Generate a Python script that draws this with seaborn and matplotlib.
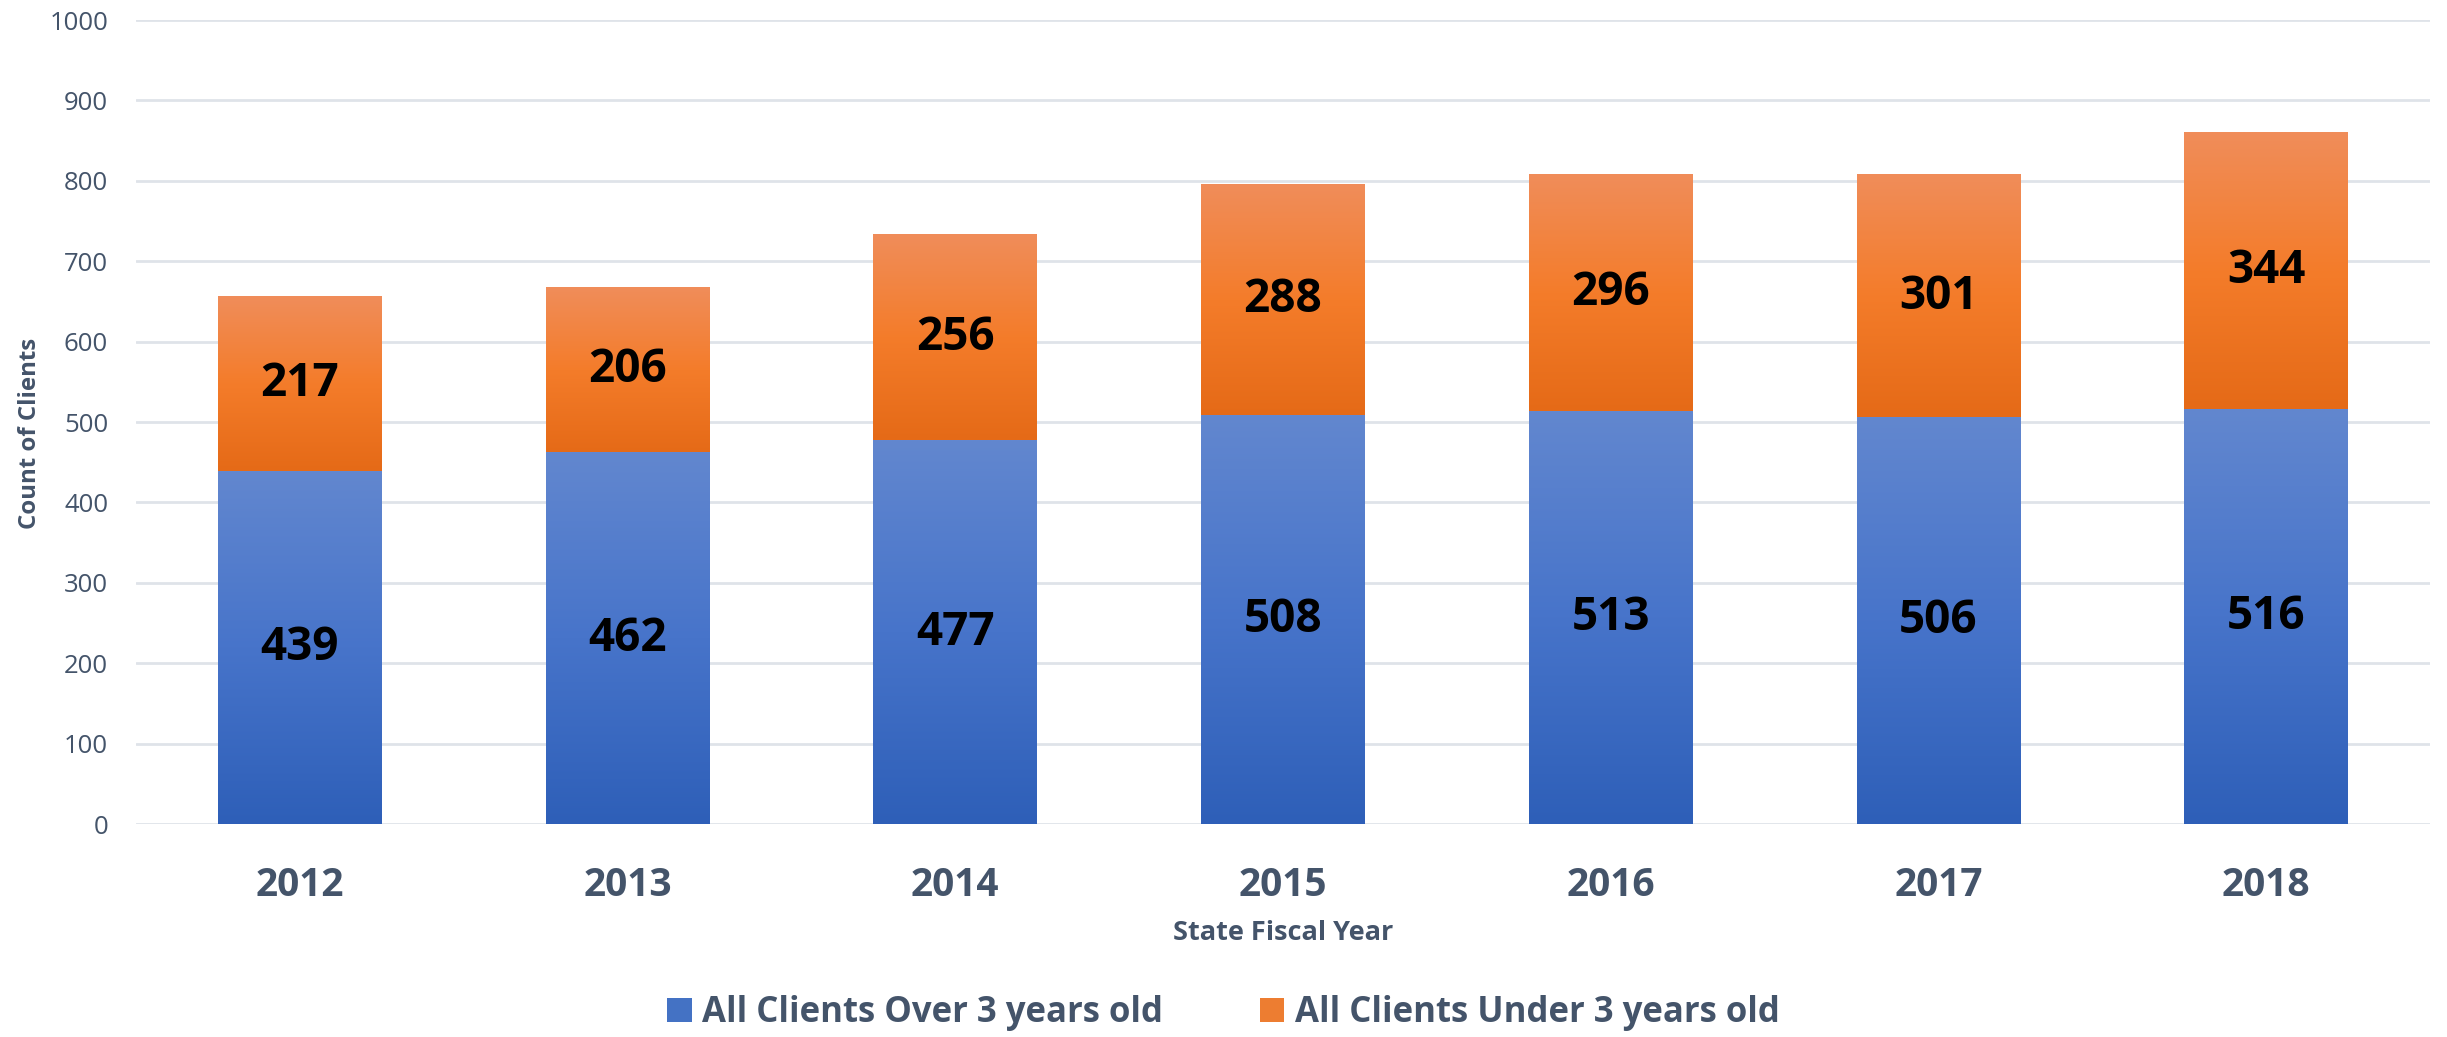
import numpy as np
import pandas as pd
import matplotlib
matplotlib.use("Agg")
import matplotlib.pyplot as plt
import seaborn as sns
from matplotlib.colors import LinearSegmentedColormap
from matplotlib.patches import Patch

years = ["2012", "2013", "2014", "2015", "2016", "2017", "2018"]
over3 = [439, 462, 477, 508, 513, 506, 516]
under3 = [217, 206, 256, 288, 296, 301, 344]
series_names = ["All Clients Over 3 years old", "All Clients Under 3 years old"]
y_ticks = [0, 100, 200, 300, 400, 500, 600, 700, 800, 900, 1000]

totals = [a + b for a, b in zip(over3, under3)]

sns.set_theme(style="white")
plt.rcParams['font.family'] = ['Open Sans', 'DejaVu Sans']

TXT = "#44546a"
GRID = "#dfe3e9"
BLUE_MID = "#4472c4"
ORANGE_MID = "#ed7d31"

fig = plt.figure(figsize=(24.47, 10.37), dpi=100)
ax = fig.add_axes([136 / 2447, 1 - 824 / 1037, (2430 - 136) / 2447, (824 - 20) / 1037])

df = pd.DataFrame({"year": years, "over": over3, "under": under3, "total": totals})

sns.barplot(data=df, x="year", y="total", color=ORANGE_MID, width=0.5,
            saturation=1, ax=ax, zorder=2)
sns.barplot(data=df, x="year", y="over", color=BLUE_MID, width=0.5,
            saturation=1, ax=ax, zorder=3)

ax.set_ylim(0, 1000)
xlim = ax.get_xlim()

blue_cmap = LinearSegmentedColormap.from_list("b", ["#2e5fb8", "#4774ca", "#6287cf"])
orange_cmap = LinearSegmentedColormap.from_list("o", ["#e56a17", "#f47c2a", "#f08d5a"])
grad = np.linspace(0, 1, 256).reshape(-1, 1)

patches = list(ax.patches)
n = len(years)
orange_patches = patches[:n]
blue_patches = patches[n:2 * n]
for op, bp in zip(orange_patches, blue_patches):
    x0 = bp.get_x(); w = bp.get_width()
    btop = bp.get_y() + bp.get_height()
    otop = op.get_y() + op.get_height()
    op.set_alpha(0); bp.set_alpha(0)
    ax.imshow(grad, extent=[x0, x0 + w, 0, btop], origin="lower", cmap=blue_cmap,
              aspect="auto", zorder=3, interpolation="bilinear")
    ax.imshow(grad, extent=[x0, x0 + w, btop, otop], origin="lower", cmap=orange_cmap,
              aspect="auto", zorder=2, interpolation="bilinear")

for i, (a, b) in enumerate(zip(over3, under3)):
    ax.text(i, a / 2, f"{a}", ha="center", va="center", fontsize=33,
            fontweight="bold", color="black", zorder=5)
    ax.text(i, a + b / 2, f"{b}", ha="center", va="center", fontsize=33,
            fontweight="bold", color="black", zorder=5)

ax.set_xlim(xlim)
ax.set_ylim(0, 1000)
ax.set_yticks(y_ticks)
ax.yaxis.grid(True, color=GRID, linewidth=2)
ax.set_axisbelow(True)
for s in ax.spines.values():
    s.set_visible(False)
ax.tick_params(axis="y", length=0, pad=20, labelsize=18.5, labelcolor=TXT)
ax.tick_params(axis="x", length=0, pad=30, labelsize=28, labelcolor=TXT)
for lab in ax.get_xticklabels():
    lab.set_fontweight("bold")
ax.set_xlabel("State Fiscal Year", fontsize=19.5, fontweight="bold", color=TXT, labelpad=11)
ax.set_ylabel("Count of Clients", fontsize=17.3, fontweight="bold", color=TXT)
ax.yaxis.set_label_coords((42 - 136) / 2294, (824 - 433) / 804)

handles = [Patch(facecolor=BLUE_MID, edgecolor="none"), Patch(facecolor=ORANGE_MID, edgecolor="none")]
fig.legend(handles, series_names, loc="center", bbox_to_anchor=(0.5, 1 - 1013 / 1037),
           ncol=2, frameon=False, handlelength=0.7, handleheight=0.7,
           handletextpad=0.3, columnspacing=2.8, prop={"weight": "bold", "size": 25},
           labelcolor=TXT)

fig.savefig("out.png", dpi=100)
